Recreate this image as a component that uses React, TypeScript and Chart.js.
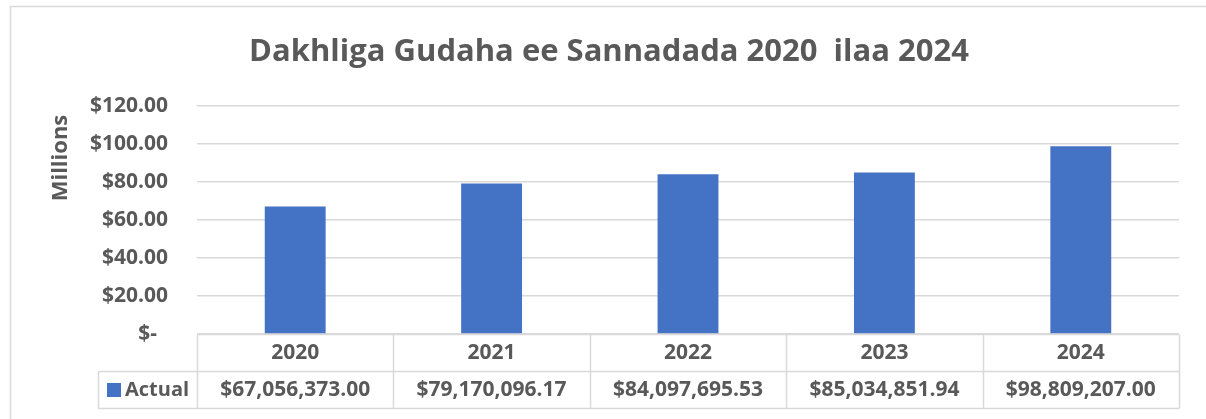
import React, { useEffect, useRef } from "react";
import { Chart, registerables } from "chart.js";

Chart.register(...registerables);

const TITLE = "Dakhliga Gudaha ee Sannadada 2020  ilaa 2024";
const AXIS_TITLE = "Millions";
const SERIES_NAME = "Actual";
const YEARS = ["2020", "2021", "2022", "2023", "2024"];
const ACTUAL = [67056373.0, 79170096.17, 84097695.53, 85034851.94, 98809207.0];
const ACTUAL_LABELS = [
  "$67,056,373.00",
  "$79,170,096.17",
  "$84,097,695.53",
  "$85,034,851.94",
  "$98,809,207.00",
];
const Y_MAX = 120;
const Y_STEP = 20;

const FONT = "'Open Sans', Lato, sans-serif";
const TEXT = "#595959";
const GRID = "#d9d9d9";
const BAR = "#4472C4";

export default function App() {
  const ref = useRef<HTMLCanvasElement>(null);

  useEffect(() => {
    document.body.style.margin = "0";
    const canvas = ref.current!;
    const extras = {
      id: "extras",
      afterDraw(chart: any) {
        const ctx = chart.ctx as CanvasRenderingContext2D;
        const area = chart.chartArea;
        const xs = chart.scales.x;
        ctx.save();
        // frame
        ctx.strokeStyle = GRID;
        ctx.lineWidth = 1.5;
        ctx.beginPath();
        ctx.moveTo(10.5, 430);
        ctx.lineTo(10.5, 6.5);
        ctx.lineTo(1210, 6.5);
        ctx.stroke();
        // title
        ctx.fillStyle = TEXT;
        ctx.font = `bold 31px ${FONT}`;
        ctx.textAlign = "center";
        ctx.textBaseline = "alphabetic";
        ctx.fillText(TITLE, 609, 61);
        // axis title
        ctx.save();
        ctx.translate(61, 158);
        ctx.rotate(-Math.PI / 2);
        ctx.font = `bold 22px ${FONT}`;
        ctx.textBaseline = "middle";
        ctx.fillText(AXIS_TITLE, 0, 0);
        ctx.restore();
        // table
        const n = YEARS.length;
        const cw = (area.right - area.left) / n;
        const top = Math.round(area.bottom) + 0.5;
        const mid = top + 37;
        const bot = mid + 37;
        const legL = 98.5;
        ctx.strokeStyle = GRID;
        ctx.lineWidth = 1.5;
        ctx.beginPath();
        ctx.moveTo(area.left, top);
        ctx.lineTo(area.right, top);
        ctx.moveTo(legL, mid);
        ctx.lineTo(area.right, mid);
        ctx.moveTo(legL, bot);
        ctx.lineTo(area.right, bot);
        ctx.moveTo(legL, mid);
        ctx.lineTo(legL, bot);
        for (let i = 0; i <= n; i++) {
          const x = Math.round(area.left + i * cw) + 0.5;
          ctx.moveTo(x, top);
          ctx.lineTo(x, bot);
        }
        ctx.stroke();
        ctx.fillStyle = TEXT;
        ctx.font = `bold 21px ${FONT}`;
        ctx.textAlign = "center";
        ctx.textBaseline = "middle";
        for (let i = 0; i < n; i++) {
          const cx = xs.getPixelForValue(i);
          ctx.fillText(YEARS[i], cx, (top + mid) / 2);
          ctx.fillText(ACTUAL_LABELS[i], cx, (mid + bot) / 2);
        }
        ctx.fillStyle = BAR;
        ctx.fillRect(107, 383, 14, 14);
        ctx.fillStyle = TEXT;
        ctx.textAlign = "left";
        ctx.font = `bold 20px ${FONT}`;
        ctx.fillText(SERIES_NAME, 125, (mid + bot) / 2);
        ctx.restore();
      },
    };

    const chart = new Chart(canvas, {
      type: "bar",
      data: {
        labels: YEARS,
        datasets: [
          {
            label: SERIES_NAME,
            data: ACTUAL.map((v) => v / 1e6),
            backgroundColor: BAR,
            barPercentage: 0.31,
            categoryPercentage: 1,
          },
        ],
      },
      options: {
        responsive: false,
        animation: false,
        devicePixelRatio: 1,
        layout: { padding: { left: 10, top: 106, right: 27, bottom: 85 } },
        plugins: {
          legend: { display: false },
          title: { display: false },
          tooltip: { enabled: false },
        },
        scales: {
          x: {
            ticks: { display: false },
            grid: { display: false },
            border: { display: false },
            afterFit(s: any) {
              s.height = 0;
            },
          },
          y: {
            min: 0,
            max: Y_MAX,
            ticks: {
              stepSize: Y_STEP,
              padding: 29,
              color: TEXT,
              font: { family: FONT, size: 21, weight: "bold" },
              callback: (v: any) =>
                Number(v) === 0 ? "$-  " : "$" + Number(v).toFixed(2),
            },
            grid: { color: GRID, lineWidth: 1.5, drawTicks: false },
            border: { display: false },
            afterFit(s: any) {
              s.width = 187;
            },
          },
        },
      },
      plugins: [extras],
    });
    return () => chart.destroy();
  }, []);

  return (
    <div style={{ width: 1206, height: 419, background: "#fff" }}>
      <canvas ref={ref} width={1206} height={419} style={{ display: "block" }} />
    </div>
  );
}
